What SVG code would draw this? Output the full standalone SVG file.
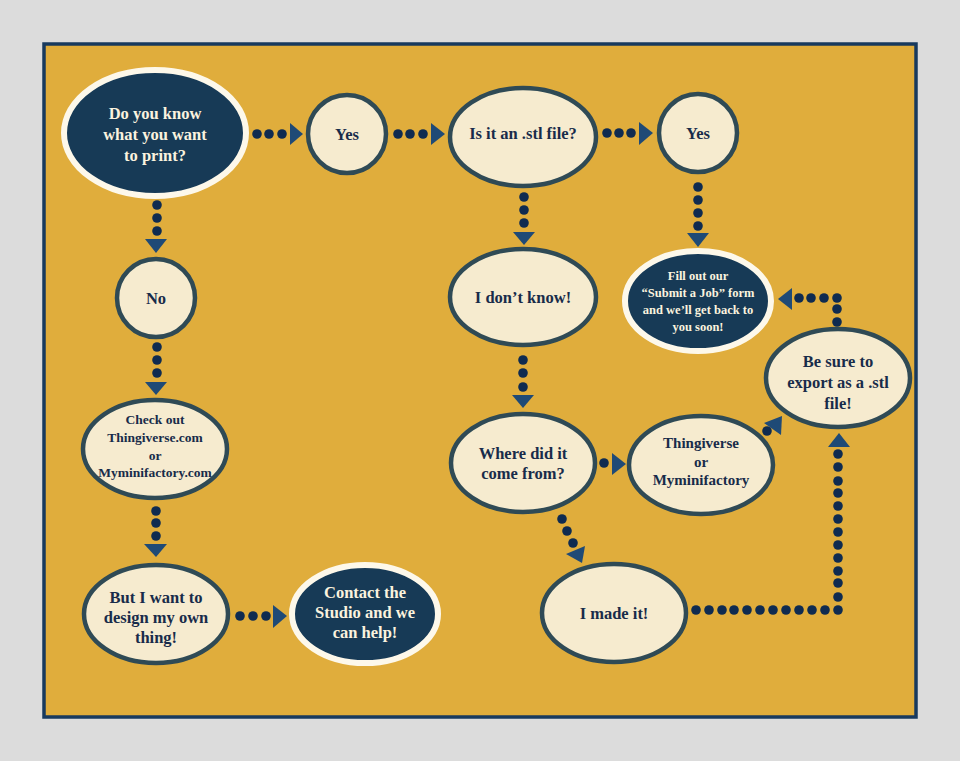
<svg xmlns="http://www.w3.org/2000/svg" width="960" height="761" viewBox="0 0 960 761">
<style>
.light{fill:#f6ebcf;stroke:#2f4a55;stroke-width:4.5}
.dark{fill:#173a56;stroke:#fdf8ea;stroke-width:6}
text{font-family:"Liberation Serif","Times New Roman",serif;font-weight:bold;text-anchor:middle;dominant-baseline:central;font-size:16.5px}
.tl{fill:#182b4a}
.td{fill:#fbf3df}
.dot{fill:#0f2b50}
.arr{fill:#1f4a76}
</style>
<rect x="0" y="0" width="960" height="761" fill="#dcdcdc"/>
<rect x="44" y="44" width="872" height="673" fill="#e0ad3c" stroke="#183a5e" stroke-width="3.5"/>

<g id="connectors">
<g class="dot">
<circle cx="257" cy="134" r="4.8"/><circle cx="269" cy="134" r="4.8"/><circle cx="282" cy="134" r="4.8"/>
<circle cx="398" cy="134" r="4.8"/><circle cx="410" cy="134" r="4.8"/><circle cx="423" cy="134" r="4.8"/>
<circle cx="607" cy="133" r="4.8"/><circle cx="619" cy="133" r="4.8"/><circle cx="631" cy="133" r="4.8"/>
<circle cx="698" cy="187" r="4.8"/><circle cx="698" cy="200" r="4.8"/><circle cx="698" cy="213" r="4.8"/><circle cx="698" cy="226" r="4.8"/>
<circle cx="524" cy="197" r="4.8"/><circle cx="524" cy="210" r="4.8"/><circle cx="524" cy="223" r="4.8"/>
<circle cx="523" cy="360" r="4.8"/><circle cx="523" cy="373" r="4.8"/><circle cx="523" cy="387" r="4.8"/>
<circle cx="604" cy="463" r="4.8"/>
<circle cx="562" cy="519" r="4.8"/><circle cx="567" cy="531" r="4.8"/><circle cx="573" cy="543" r="4.8"/>
<circle cx="767" cy="431" r="4.8"/>
<circle cx="696" cy="610" r="4.8"/><circle cx="709" cy="610" r="4.8"/><circle cx="722" cy="610" r="4.8"/><circle cx="734" cy="610" r="4.8"/><circle cx="747" cy="610" r="4.8"/><circle cx="760" cy="610" r="4.8"/><circle cx="773" cy="610" r="4.8"/><circle cx="786" cy="610" r="4.8"/><circle cx="799" cy="610" r="4.8"/><circle cx="812" cy="610" r="4.8"/><circle cx="825" cy="610" r="4.8"/><circle cx="838" cy="610" r="4.8"/>
<circle cx="838" cy="597" r="4.8"/><circle cx="838" cy="583" r="4.8"/><circle cx="838" cy="571" r="4.8"/><circle cx="838" cy="558" r="4.8"/><circle cx="838" cy="545" r="4.8"/><circle cx="838" cy="532" r="4.8"/><circle cx="838" cy="519" r="4.8"/><circle cx="838" cy="506" r="4.8"/><circle cx="838" cy="493" r="4.8"/><circle cx="838" cy="481" r="4.8"/><circle cx="838" cy="467" r="4.8"/><circle cx="838" cy="454" r="4.8"/>
<circle cx="837" cy="322" r="4.8"/><circle cx="837" cy="309" r="4.8"/><circle cx="837" cy="298" r="4.8"/><circle cx="824" cy="298" r="4.8"/><circle cx="811" cy="298" r="4.8"/><circle cx="799" cy="298" r="4.8"/>
<circle cx="157" cy="205" r="4.8"/><circle cx="157" cy="218" r="4.8"/><circle cx="157" cy="231" r="4.8"/>
<circle cx="157" cy="347" r="4.8"/><circle cx="157" cy="360" r="4.8"/><circle cx="157" cy="373" r="4.8"/>
<circle cx="156" cy="511" r="4.8"/><circle cx="156" cy="523" r="4.8"/><circle cx="156" cy="536" r="4.8"/>
<circle cx="240" cy="616" r="4.8"/><circle cx="253" cy="616" r="4.8"/><circle cx="266" cy="616" r="4.8"/>
</g>
<g class="arr">
<polygon points="290,123 290,145 303,134"/>
<polygon points="431,123 431,145 445,134"/>
<polygon points="639,122 639,145 653,133"/>
<polygon points="687,233 709,233 698,247"/>
<polygon points="513,232 535,232 524,245"/>
<polygon points="512,395 534,395 523,408"/>
<polygon points="612,453 612,475 626,464"/>
<polygon points="566,554 585,546 582,563"/>
<polygon points="764,423 781,435 782,416"/>
<polygon points="828,447 850,447 839,433"/>
<polygon points="792,288 792,310 778,299"/>
<polygon points="145,239 167,239 156,253"/>
<polygon points="145,382 167,382 156,395"/>
<polygon points="144,544 167,544 156,557"/>
<polygon points="273,605 273,628 287,616"/>
</g>
</g>

<g id="n-know">
<ellipse class="dark" cx="155" cy="133" rx="91" ry="63"/>
<text class="td" x="155" y="113">Do you know</text>
<text class="td" x="155" y="134">what you want</text>
<text class="td" x="155" y="155">to print?</text>
</g>
<g id="n-yes1">
<circle class="light" cx="347" cy="134" r="39"/>
<text class="tl" x="347" y="134" font-size="16">Yes</text>
</g>
<g id="n-stl">
<ellipse class="light" cx="523" cy="137" rx="73" ry="49"/>
<text class="tl" x="523" y="133">Is it an .stl file?</text>
</g>
<g id="n-yes2">
<circle class="light" cx="698" cy="133" r="39"/>
<text class="tl" x="698" y="133">Yes</text>
</g>
<g id="n-fill">
<ellipse class="dark" cx="698" cy="301" rx="73" ry="50"/>
<text class="td" x="698" y="276" style="font-size:12.5px">Fill out our</text>
<text class="td" x="698" y="293" style="font-size:12.5px">“Submit  a Job” form</text>
<text class="td" x="698" y="310" style="font-size:12.5px">and we’ll get back to</text>
<text class="td" x="698" y="327" style="font-size:12.5px">you soon!</text>
</g>
<g id="n-export">
<ellipse class="light" cx="838" cy="378" rx="72" ry="49"/>
<text class="tl" x="838" y="361">Be sure to</text>
<text class="tl" x="838" y="382">export as a .stl</text>
<text class="tl" x="838" y="403">file!</text>
</g>
<g id="n-dontknow">
<ellipse class="light" cx="523" cy="297" rx="73" ry="48"/>
<text class="tl" x="523" y="297">I don’t know!</text>
</g>
<g id="n-where">
<ellipse class="light" cx="523" cy="463" rx="72" ry="49"/>
<text class="tl" x="523" y="453">Where did it</text>
<text class="tl" x="523" y="473">come from?</text>
</g>
<g id="n-thing">
<ellipse class="light" cx="701" cy="465" rx="72" ry="49"/>
<text class="tl" x="701" y="443" style="font-size:15px">Thingiverse</text>
<text class="tl" x="701" y="462" style="font-size:15px">or</text>
<text class="tl" x="701" y="480" style="font-size:15px">Myminifactory</text>
</g>
<g id="n-made">
<ellipse class="light" cx="614" cy="613" rx="72" ry="49"/>
<text class="tl" x="614" y="613">I made it!</text>
</g>
<g id="n-no">
<circle class="light" cx="156" cy="298" r="39"/>
<text class="tl" x="156" y="298">No</text>
</g>
<g id="n-check">
<ellipse class="light" cx="155" cy="449" rx="72" ry="49"/>
<text class="tl" x="155" y="419" style="font-size:13.5px">Check out</text>
<text class="tl" x="155" y="437" style="font-size:13.5px">Thingiverse.com</text>
<text class="tl" x="155" y="455" style="font-size:13.5px">or</text>
<text class="tl" x="155" y="472" style="font-size:13.5px">Myminifactory.com</text>
</g>
<g id="n-design">
<ellipse class="light" cx="156" cy="614" rx="72" ry="49"/>
<text class="tl" x="156" y="597">But I want to</text>
<text class="tl" x="156" y="617">design my own</text>
<text class="tl" x="156" y="637">thing!</text>
</g>
<g id="n-contact">
<ellipse class="dark" cx="365" cy="614" rx="73" ry="49"/>
<text class="td" x="365" y="592">Contact the</text>
<text class="td" x="365" y="612">Studio and we</text>
<text class="td" x="365" y="632">can help!</text>
</g>
</svg>
